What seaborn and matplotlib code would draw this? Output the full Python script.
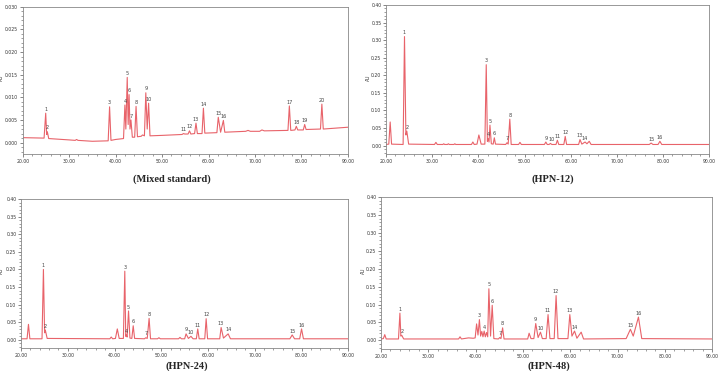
import numpy as np
import pandas as pd
import matplotlib.pyplot as plt
from matplotlib.ticker import MultipleLocator, AutoMinorLocator, FormatStrFormatter
import seaborn as sns

# chromatogram traces (time in min, absorbance in AU)
std_t = [20.0, 24.6, 24.95, 25.15, 25.3, 25.6, 30.0, 31.3, 31.6, 31.9, 35.0, 38.4, 38.7, 39.0, 40.0,
         41.7, 42.0, 42.2, 42.5, 42.7, 42.9, 43.1, 43.3, 43.6, 44.1, 44.4, 44.7, 45.5, 45.8, 46.2,
         46.5, 46.8, 47.1, 47.4, 50.0, 54.3, 54.6, 54.9, 55.6, 55.9, 56.2, 57.0, 57.3, 57.6, 58.6,
         58.9, 59.2, 61.8, 62.1, 62.6, 63.2, 63.5, 68.0, 68.5, 69.0, 71.0, 71.5, 72.0, 77.1, 77.4,
         77.7, 78.6, 78.9, 79.2, 80.4, 80.7, 81.0, 84.1, 84.4, 84.7, 90.0]
std_au = [0.0011, 0.0010, 0.0065, 0.0018, 0.0024, 0.0009, 0.0006, 0.0005, 0.0007, 0.0005, 0.0003,
          0.0004, 0.0079, 0.0005, 0.0007, 0.0009, 0.0083, 0.0030, 0.0144, 0.0040, 0.0106, 0.0030,
          0.0050, 0.0012, 0.0012, 0.0080, 0.0013, 0.0014, 0.0017, 0.0015, 0.0110, 0.0030, 0.0087,
          0.0015, 0.0016, 0.0018, 0.0020, 0.0019, 0.0019, 0.0026, 0.0019, 0.0020, 0.0043, 0.0020,
          0.0020, 0.0076, 0.0021, 0.0022, 0.0056, 0.0023, 0.0049, 0.0023, 0.0025, 0.0027, 0.0025,
          0.0025, 0.0028, 0.0026, 0.0027, 0.0081, 0.0027, 0.0028, 0.0036, 0.0028, 0.0028, 0.0040,
          0.0029, 0.0030, 0.0085, 0.0030, 0.0034]
std_pk_t = [24.95, 25.3, 38.7, 42.0, 42.5, 42.9, 43.3, 44.4, 46.5, 47.1,
            54.6, 55.9, 57.3, 58.9, 62.1, 63.2, 77.4, 78.9, 80.7, 84.4]
std_pk_au = [0.0065, 0.0024, 0.0079, 0.0083, 0.0144, 0.0106, 0.0050, 0.0080, 0.0110, 0.0087,
             0.0020, 0.0026, 0.0043, 0.0076, 0.0056, 0.0049, 0.0081, 0.0036, 0.0040, 0.0085]

h12_t = [20.0, 20.6, 20.9, 21.2, 23.7, 24.0, 24.3, 24.5, 24.9, 30.5, 30.8, 31.1, 32.3, 32.5, 32.7,
         33.3, 33.5, 33.7, 34.7, 34.9, 35.1, 38.5, 38.8, 39.1, 39.7, 40.1, 40.6, 41.4, 41.7, 41.95,
         42.1, 42.3, 42.5, 42.8, 43.2, 43.45, 43.7, 45.9, 46.2, 46.45, 46.8, 47.1, 48.7, 49.0, 49.3,
         54.3, 54.6, 54.9, 55.3, 55.6, 55.9, 56.8, 57.1, 57.4, 58.5, 58.8, 59.1, 61.7, 62.0, 62.4,
         63.1, 63.5, 64.0, 64.4, 77.0, 77.4, 77.8, 78.9, 79.3, 79.7, 90.0]
h12_au = [0.003, 0.004, 0.067, 0.004, 0.003, 0.310, 0.030, 0.041, 0.004, 0.003, 0.009, 0.003, 0.003,
          0.005, 0.003, 0.003, 0.005, 0.003, 0.003, 0.005, 0.003, 0.003, 0.010, 0.003, 0.004, 0.030,
          0.004, 0.004, 0.230, 0.012, 0.020, 0.010, 0.058, 0.005, 0.004, 0.022, 0.004, 0.003, 0.008,
          0.004, 0.075, 0.003, 0.003, 0.009, 0.003, 0.003, 0.010, 0.003, 0.003, 0.006, 0.003, 0.003,
          0.015, 0.003, 0.003, 0.026, 0.003, 0.003, 0.017, 0.004, 0.010, 0.005, 0.012, 0.003, 0.003,
          0.007, 0.003, 0.003, 0.012, 0.003, 0.003]
h12_pk_t = [24.0, 24.5, 41.7, 42.1, 42.5, 43.45, 46.2, 46.8, 54.6, 55.9, 57.1, 58.8, 62.0, 63.1, 77.4, 79.3]
h12_pk_au = [0.310, 0.041, 0.230, 0.020, 0.058, 0.022, 0.008, 0.075, 0.010, 0.006, 0.015, 0.026,
             0.017, 0.010, 0.007, 0.012]

h24_t = [20.0, 21.3, 21.6, 21.9, 24.5, 24.8, 25.05, 25.2, 25.6, 39.0, 39.3, 39.6, 40.2, 40.6, 41.0,
         41.9, 42.2, 42.4, 42.5, 42.7, 43.0, 43.3, 43.7, 44.0, 44.3, 46.4, 46.7, 47.0, 47.4, 47.7,
         49.2, 49.5, 49.8, 53.7, 54.0, 54.3, 55.0, 55.3, 55.8, 56.35, 56.8, 57.5, 57.8, 58.1, 59.3,
         59.6, 59.9, 62.5, 62.8, 63.3, 64.3, 64.8, 77.5, 78.0, 78.5, 79.6, 80.0, 80.4, 90.0]
h24_au = [0.003, 0.003, 0.044, 0.003, 0.003, 0.200, 0.020, 0.028, 0.004, 0.003, 0.008, 0.003, 0.004,
          0.031, 0.004, 0.004, 0.195, 0.010, 0.014, 0.008, 0.082, 0.005, 0.004, 0.040, 0.004, 0.003,
          0.006, 0.004, 0.061, 0.003, 0.003, 0.006, 0.003, 0.003, 0.007, 0.003, 0.003, 0.017, 0.004,
          0.010, 0.003, 0.003, 0.031, 0.003, 0.003, 0.060, 0.003, 0.003, 0.035, 0.005, 0.017, 0.003,
          0.003, 0.014, 0.003, 0.003, 0.031, 0.003, 0.003]
h24_pk_t = [24.8, 25.2, 42.2, 42.5, 43.0, 44.0, 46.7, 47.4, 55.3, 56.35, 57.8, 59.6, 62.8, 64.3, 78.0, 80.0]
h24_pk_au = [0.200, 0.028, 0.195, 0.014, 0.082, 0.040, 0.006, 0.061, 0.017, 0.010, 0.031, 0.060,
             0.035, 0.017, 0.014, 0.031]

h48_t = [20.0, 20.5, 20.8, 21.1, 23.7, 24.0, 24.2, 24.4, 24.8, 36.4, 36.7, 37.0, 37.5, 38.5, 39.5,
         39.9, 40.2, 40.5, 40.8, 41.05, 41.3, 41.55, 41.8, 42.05, 42.3, 42.55, 42.8, 43.15, 43.5,
         43.85, 44.8, 45.1, 45.35, 45.7, 46.0, 51.0, 51.3, 51.7, 52.3, 52.7, 53.2, 53.7, 54.1, 54.9,
         55.3, 55.7, 56.6, 57.0, 57.4, 59.5, 59.9, 60.35, 60.9, 61.4, 62.3, 62.8, 71.8, 72.7, 73.3,
         74.4, 75.1, 90.0]
h48_au = [0.004, 0.005, 0.016, 0.004, 0.004, 0.076, 0.012, 0.014, 0.004, 0.004, 0.010, 0.004, 0.005,
          0.007, 0.006, 0.007, 0.046, 0.015, 0.058, 0.012, 0.025, 0.010, 0.026, 0.010, 0.022, 0.010,
          0.144, 0.012, 0.098, 0.005, 0.004, 0.008, 0.005, 0.035, 0.004, 0.004, 0.020, 0.005, 0.005,
          0.047, 0.008, 0.023, 0.005, 0.005, 0.072, 0.005, 0.005, 0.125, 0.005, 0.005, 0.072, 0.012,
          0.026, 0.006, 0.023, 0.004, 0.005, 0.031, 0.012, 0.065, 0.005, 0.004]
h48_pk_t = [24.0, 24.4, 40.8, 41.8, 42.8, 43.5, 45.1, 45.7, 52.7, 53.7, 55.3, 57.0, 59.9, 60.9, 72.7, 74.4]
h48_pk_au = [0.076, 0.014, 0.058, 0.026, 0.144, 0.098, 0.008, 0.035, 0.047, 0.023, 0.072, 0.125,
             0.072, 0.026, 0.031, 0.065]

titles = ['(Mixed standard)', '(HPN-12)', '(HPN-24)', '(HPN-48)']

sns.set_style('ticks')
fig = plt.figure(figsize=(7.21, 3.71), dpi=100)

# axes boxes in figure fraction [left, bottom, width, height]
boxes = [[0.0315, 0.585, 0.451, 0.397],
         [0.5354, 0.585, 0.4484, 0.4016],
         [0.0291, 0.0612, 0.454, 0.4024],
         [0.5284, 0.0593, 0.4595, 0.4097]]
title_pos = [(0.2386, 0.5175), (0.7666, 0.5175), (0.259, 0.0135), (0.7614, 0.0135)]
au_pos = [(0.0025, 0.79), (0.511, 0.79), (0.0025, 0.27), (0.504, 0.27)]
panels = [(std_t, std_au, std_pk_t, std_pk_au),
          (h12_t, h12_au, h12_pk_t, h12_pk_au),
          (h24_t, h24_au, h24_pk_t, h24_pk_au),
          (h48_t, h48_au, h48_pk_t, h48_pk_au)]

red = '#e8636a'
for i, (t, au, pk_t, pk_au) in enumerate(panels):
    ax = fig.add_axes(boxes[i])
    df = pd.DataFrame({'t': t, 'au': au})
    sns.lineplot(data=df, x='t', y='au', ax=ax, color=red, lw=0.8, sort=False, estimator=None)
    for n, (x, y) in enumerate(zip(pk_t, pk_au)):
        ax.annotate(str(n + 1), (x, y), xytext=(0, 1), textcoords='offset points',
                    ha='center', va='bottom', fontsize=3.6, color='#444444')
    ax.set_xlim(20, 90)
    if i == 0:
        ax.set_ylim(-0.0025, 0.030)
        ax.yaxis.set_major_locator(MultipleLocator(0.005))
        ax.yaxis.set_major_formatter(FormatStrFormatter('%.3f'))
    else:
        ax.set_ylim(-0.024, 0.40)
        ax.yaxis.set_major_locator(MultipleLocator(0.05))
        ax.yaxis.set_major_formatter(FormatStrFormatter('%.2f'))
    ax.xaxis.set_major_locator(MultipleLocator(10))
    ax.xaxis.set_major_formatter(FormatStrFormatter('%.2f'))
    ax.xaxis.set_minor_locator(AutoMinorLocator(5))
    ax.yaxis.set_minor_locator(AutoMinorLocator(5))
    ax.tick_params(which='major', length=2.5, width=0.5, labelsize=3.3, pad=0.8,
                   colors='#555555', labelcolor='#333333')
    ax.tick_params(which='minor', length=1.2, width=0.4, colors='#555555')
    for s in ax.spines.values():
        s.set_linewidth(0.6)
        s.set_color('#888888')
    ax.set_xlabel('')
    ax.set_ylabel('')
    fig.text(au_pos[i][0], au_pos[i][1], 'AU', rotation=90, fontsize=3.3, color='#333333',
             ha='center', va='center')
    fig.text(title_pos[i][0], title_pos[i][1], titles[i], ha='center', va='center',
             fontsize=7.5, fontweight='bold', family='Liberation Serif')

plt.savefig('out.png', dpi=100)
